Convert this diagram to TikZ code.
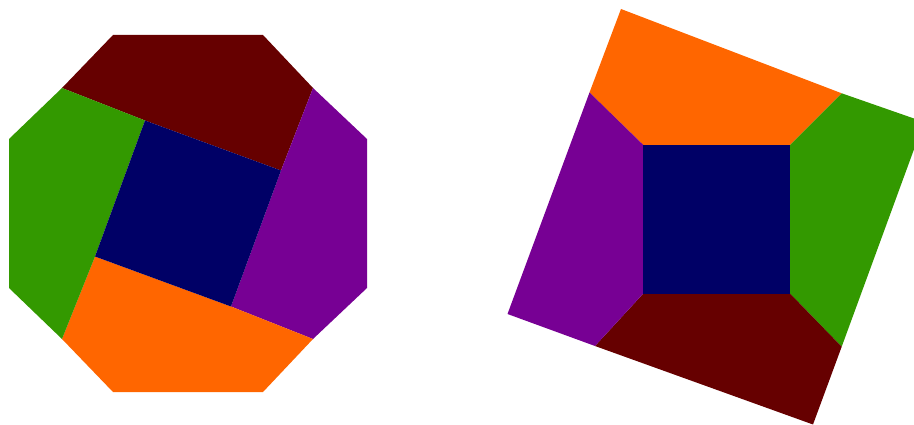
\documentclass[tikz,border=0pt]{standalone}
\definecolor{cred}{HTML}{660000}
\definecolor{cgreen}{HTML}{339900}
\definecolor{cnavy}{HTML}{000066}
\definecolor{cpurple}{HTML}{770094}
\definecolor{corange}{HTML}{FF6600}
\begin{document}
\begin{tikzpicture}[x=1pt,y=-1pt,piece/.style={line join=round}]
\useasboundingbox (0,0) rectangle (914,425);
\clip (0,0) rectangle (914,425);
% ---- octagon ----
\coordinate (o1) at (113,35);
\coordinate (o2) at (263,35);
\coordinate (o3) at (367,139);
\coordinate (o4) at (367,288);
\coordinate (o5) at (263,392);
\coordinate (o6) at (113,392);
\coordinate (o7) at (9,288);
\coordinate (o8) at (9,139);
\coordinate (m1) at (62,88);
\coordinate (m2) at (313,88);
\coordinate (m3) at (313,339);
\coordinate (m4) at (62,339);
\coordinate (q1) at (145,120.5);
\coordinate (q2) at (281,170.5);
\coordinate (q3) at (231,306.5);
\coordinate (q4) at (95,256.5);
\fill[cred,piece] (m1) -- (o1) -- (o2) -- (m2) -- (q2) -- (q1) -- cycle;
\fill[cpurple,piece] (m2) -- (o3) -- (o4) -- (m3) -- (q3) -- (q2) -- cycle;
\fill[corange,piece] (m3) -- (o5) -- (o6) -- (m4) -- (q4) -- (q3) -- cycle;
\fill[cgreen,piece] (m4) -- (o7) -- (o8) -- (m1) -- (q1) -- (q4) -- cycle;
\fill[cnavy,piece] (q1) -- (q2) -- (q3) -- (q4) -- cycle;
% ---- tilted square ----
\coordinate (T) at (621,9);
\coordinate (R) at (924,122);
\coordinate (B) at (813,424.5);
\coordinate (L) at (507.5,314);
\coordinate (j1) at (589.5,92.5);
\coordinate (j2) at (841.7,93.3);
\coordinate (j3) at (841.7,346.7);
\coordinate (j4) at (595,346);
\coordinate (s1) at (643.3,145);
\coordinate (s2) at (790,145);
\coordinate (s3) at (790,293.5);
\coordinate (s4) at (643.3,293.5);
\fill[corange,piece] (j1) -- (T) -- (j2) -- (s2) -- (s1) -- cycle;
\fill[cgreen,piece] (j2) -- (R) -- (j3) -- (s3) -- (s2) -- cycle;
\fill[cred,piece] (j3) -- (B) -- (j4) -- (s4) -- (s3) -- cycle;
\fill[cpurple,piece] (j4) -- (L) -- (j1) -- (s1) -- (s4) -- cycle;
\fill[cnavy,piece] (s1) -- (s2) -- (s3) -- (s4) -- cycle;
\end{tikzpicture}
\end{document}
